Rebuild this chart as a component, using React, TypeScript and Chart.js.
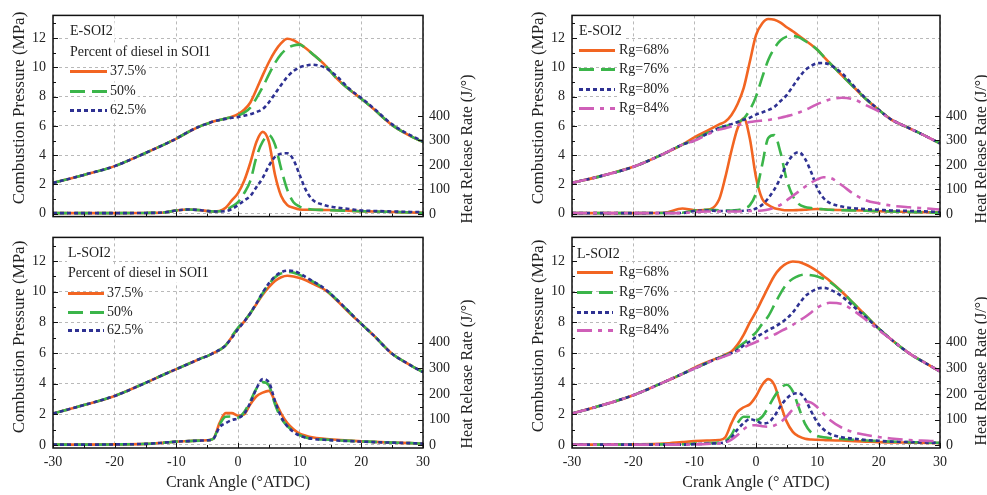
import React, { useEffect, useRef } from 'react';
import { Chart, registerables } from 'chart.js';
Chart.register(...registerables);

// ---------- data ----------
const CRANK = [-30,-25,-20,-15,-12,-10,-8,-6,-5,-4,-3,-2,-1,0,1,2,3,4,5,6,7,8,9,10,11,12,14,16,18,20,22,25,28,30];

const X_TICKS = [-30,-20,-10,0,10,20,30];
const P_TICKS = [0,2,4,6,8,10,12];
const HRR_TICKS = [0,100,200,300,400];
const X_MINOR = [-25,-15,-5,5,15,25];
const P_MINOR = [1,3,5,7,9,11,13];
const HRR_MINOR = [50,150,250,350];

// E-SOI2, percent of diesel in SOI1 (top left)
const eP375 = [2.1,2.65,3.25,4.15,4.72,5.13,5.6,6.0,6.15,6.3,6.4,6.5,6.62,6.8,7.1,7.6,8.5,9.45,10.35,11.1,11.65,11.95,11.85,11.6,11.3,10.95,10.2,9.25,8.5,7.85,7.15,6.05,5.3,4.9];
const eP50 = [2.1,2.65,3.25,4.15,4.72,5.13,5.6,6.0,6.15,6.3,6.4,6.5,6.6,6.7,6.9,7.25,7.9,8.65,9.5,10.3,10.9,11.3,11.5,11.55,11.3,10.95,10.2,9.25,8.5,7.85,7.15,6.05,5.3,4.9];
const eP625 = [2.1,2.65,3.25,4.15,4.72,5.13,5.6,6.0,6.15,6.3,6.4,6.48,6.55,6.6,6.7,6.8,6.95,7.15,7.6,8.2,8.8,9.35,9.75,10.0,10.12,10.18,10.0,9.4,8.55,7.9,7.2,6.1,5.35,4.95];
const eH375 = [3,3,3,4,6,14,18,15,12,10,12,25,55,85,135,209,295,335,295,160,73,36,25,18,17,17,16,15,13,11,10,8,6,5];
const eH50 = [3,3,3,4,6,14,18,15,12,10,11,15,30,48,85,135,233,295,322,283,184,98,48,30,22,18,16,14,13,11,10,8,6,4];
const eH625 = [3,3,3,4,6,14,18,15,12,10,10,11,20,36,55,73,110,147,196,233,246,248,221,159,98,60,36,26,20,14,12,10,8,7];

// L-SOI2, percent of diesel in SOI1 (bottom left)
const lP375 = [2.05,2.6,3.2,4.05,4.6,4.95,5.3,5.65,5.8,6.0,6.2,6.5,7.05,7.6,8.05,8.6,9.2,9.8,10.3,10.7,10.95,11.05,11.0,10.9,10.75,10.55,10.15,9.45,8.65,7.9,7.15,5.95,5.2,4.75];
const lP50 = [2.05,2.6,3.2,4.05,4.6,4.95,5.3,5.65,5.8,6.0,6.2,6.5,7.1,7.65,8.1,8.6,9.25,9.9,10.5,10.95,11.2,11.3,11.25,11.1,10.9,10.7,10.2,9.5,8.7,7.9,7.15,5.95,5.2,4.75];
const lP625 = [2.05,2.6,3.2,4.05,4.6,4.95,5.3,5.65,5.8,6.0,6.2,6.5,7.0,7.55,8.05,8.6,9.25,9.95,10.55,11.0,11.28,11.38,11.35,11.2,10.95,10.72,10.22,9.5,8.7,7.9,7.15,5.95,5.2,4.75];
const lH375 = [2,2,3,5,10,14,16,18,19,25,86,125,125,115,120,160,191,205,212,172,123,86,62,45,37,31,25,21,18,15,13,10,8,6];
const lH50 = [2,2,3,5,10,14,16,18,19,25,80,111,112,108,129,172,221,246,234,160,105,74,55,39,30,25,22,19,17,15,13,10,8,6];
const lH625 = [2,2,3,5,10,14,16,18,19,25,70,86,98,105,123,166,221,258,246,172,111,74,52,37,30,25,21,18,16,14,12,10,8,6];

// E-SOI2, Rg (top right)
const rP68 = [2.1,2.6,3.2,4.1,4.72,5.23,5.65,6.1,6.3,6.75,7.5,8.6,10.4,12.2,13.0,13.3,13.25,13.05,12.74,12.47,12.15,11.85,11.55,11.2,10.75,10.3,9.45,8.62,7.8,7.1,6.45,5.84,5.23,4.8];
const rP76 = [2.1,2.6,3.2,4.1,4.72,5.05,5.5,5.85,5.98,6.1,6.25,6.5,7.1,8.0,9.3,10.5,11.3,11.85,12.1,12.15,12.05,11.8,11.55,11.2,10.75,10.3,9.45,8.62,7.8,7.1,6.45,5.84,5.23,4.8];
const rP80 = [2.1,2.6,3.2,4.1,4.72,5.0,5.45,5.85,6.0,6.12,6.26,6.42,6.56,6.77,6.92,7.08,7.3,7.7,8.1,8.7,9.3,9.8,10.1,10.28,10.3,10.18,9.6,8.7,7.85,7.1,6.45,5.84,5.23,4.8];
const rP84 = [2.1,2.6,3.2,4.1,4.72,5.0,5.4,5.75,5.84,5.95,6.05,6.15,6.26,6.32,6.36,6.4,6.48,6.56,6.66,6.77,6.92,7.08,7.28,7.49,7.65,7.8,7.92,7.8,7.4,7.0,6.45,5.84,5.23,4.8];
const rH68 = [3,3,3,5,22,15,17,60,150,258,350,391,307,150,62,36,23,18,15,15,16,17,19,20,19,17,16,15,13,11,10,8,7,6];
const rH76 = [3,3,3,4,5,14,17,15,14,14,16,22,36,85,200,310,322,250,140,73,40,28,24,21,19,17,15,14,13,11,10,8,6,5];
const rH80 = [3,3,3,4,4,12,14,12,12,12,12,13,15,22,37,64,100,148,203,240,252,225,170,105,65,45,30,23,19,17,14,12,10,8];
const rH84 = [3,3,3,3,3,8,10,10,10,10,10,11,12,12,14,18,26,37,55,74,92,111,128,141,150,148,117,80,55,43,34,27,22,18];

// L-SOI2, Rg (bottom right)
const sP68 = [2.05,2.6,3.25,4.1,4.64,5.05,5.4,5.72,5.9,6.1,6.55,7.2,8.0,8.7,9.5,10.3,11.05,11.55,11.85,11.98,11.95,11.8,11.6,11.34,11.03,10.72,10.0,9.2,8.4,7.6,6.9,5.98,5.26,4.8];
const sP76 = [2.05,2.6,3.25,4.1,4.64,5.0,5.35,5.7,5.84,6.05,6.35,6.65,7.0,7.35,7.9,8.4,9.15,9.9,10.5,10.85,11.05,11.12,11.08,11.0,10.85,10.65,10.0,9.2,8.4,7.6,6.9,5.98,5.26,4.8];
const sP80 = [2.05,2.6,3.25,4.1,4.64,5.0,5.35,5.7,5.84,6.0,6.2,6.5,6.75,7.05,7.25,7.5,7.7,7.95,8.25,8.65,9.2,9.7,10.0,10.2,10.26,10.16,9.7,9.0,8.3,7.6,6.9,5.98,5.26,4.8];
const sP84 = [2.05,2.6,3.25,4.1,4.64,5.0,5.35,5.65,5.8,5.95,6.12,6.35,6.55,6.72,6.88,7.02,7.2,7.42,7.62,7.84,8.1,8.35,8.65,8.97,9.18,9.28,9.2,8.75,8.15,7.5,6.9,5.98,5.26,4.8];
const sH68 = [2,2,3,6,12,16,18,20,31,86,130,148,160,191,235,258,235,160,92,52,34,25,22,21,20,19,18,16,14,12,11,10,9,8];
const sH76 = [2,2,3,3,3,6,8,10,16,40,86,111,110,97,111,148,190,222,236,210,145,83,49,36,31,28,24,21,18,16,14,12,10,9];
const sH80 = [2,2,2,2,2,4,6,8,12,30,62,86,102,95,85,88,114,152,182,200,203,180,132,89,62,45,31,25,20,17,14,12,10,9];
const sH84 = [2,2,2,2,2,3,5,7,10,22,40,62,77,78,74,72,77,90,112,140,158,170,166,148,123,99,68,50,40,32,26,20,17,15];

const DIESEL_LABELS = ['37.5%', '50%', '62.5%'];
const RG_LABELS = ['Rg=68%', 'Rg=76%', 'Rg=80%', 'Rg=84%'];

// ---------- styles ----------
const FONT = '"Liberation Serif", "Times New Roman", serif';
const TEXT = '#222';
const STYLES = [
  { color: '#F26522', dash: [] as number[] },
  { color: '#3BB54A', dash: [15, 7] },
  { color: '#2E3192', dash: [4, 3] },
  { color: '#CF5FB8', dash: [15, 6, 4, 6] },
];

type Panel = {
  id: string;
  box: { x: number; y: number; w: number; h: number };
  area: { l: number; r: number; t: number; b: number };
  showX: boolean;
  heads: { text: string; dy: number }[];
  labels: string[];
  P: number[][];
  H: number[][];
  leg: { dx: number; rows: number[]; lineLen: number; textDx: number };
};

const PANELS: Panel[] = [
  {
    id: 'tl', box: { x: 0, y: 0, w: 490, h: 232 }, area: { l: 53, r: 423, t: 4, b: 226 }, showX: false,
    heads: [{ text: 'E-SOI2', dy: 16 }, { text: 'Percent of diesel in SOI1', dy: 37 }],
    labels: DIESEL_LABELS, P: [eP375, eP50, eP625], H: [eH375, eH50, eH625],
    leg: { dx: 17, rows: [56, 76, 95], lineLen: 37, textDx: 57 },
  },
  {
    id: 'bl', box: { x: 0, y: 222, w: 490, h: 273 }, area: { l: 53, r: 423, t: 226, b: 448 }, showX: true,
    heads: [{ text: 'L-SOI2', dy: 16 }, { text: 'Percent of diesel in SOI1', dy: 36 }],
    labels: DIESEL_LABELS, P: [lP375, lP50, lP625], H: [lH375, lH50, lH625],
    leg: { dx: 15, rows: [56, 75, 93], lineLen: 36, textDx: 54 },
  },
  {
    id: 'tr', box: { x: 490, y: 0, w: 497, h: 232 }, area: { l: 572, r: 940, t: 4, b: 226 }, showX: false,
    heads: [{ text: 'E-SOI2', dy: 16 }],
    labels: RG_LABELS, P: [rP68, rP76, rP80, rP84], H: [rH68, rH76, rH80, rH84],
    leg: { dx: 7, rows: [35, 54, 74, 93], lineLen: 36, textDx: 47 },
  },
  {
    id: 'br', box: { x: 490, y: 222, w: 497, h: 273 }, area: { l: 572, r: 940, t: 226, b: 448 }, showX: true,
    heads: [{ text: 'L-SOI2', dy: 17 }],
    labels: RG_LABELS, P: [sP68, sP76, sP80, sP84], H: [sH68, sH76, sH80, sH84],
    leg: { dx: 5, rows: [35, 55, 75, 93], lineLen: 36, textDx: 47 },
  },
];

function decorPlugin(p: Panel) {
  return {
    id: 'decor_' + p.id,
    afterDraw(chart: any) {
      const ctx = chart.ctx as CanvasRenderingContext2D;
      const a = chart.chartArea;
      const sx = chart.scales.x, sy = chart.scales.y, sh = chart.scales.yH;
      ctx.save();
      // legend
      ctx.font = `14px ${FONT}`;
      ctx.textBaseline = 'middle';
      ctx.textAlign = 'left';
      const tx = a.left + p.leg.dx;
      const white = (x: number, y: number, w: number) => {
        ctx.fillStyle = '#fff';
        ctx.fillRect(x - 1, y - 9, w + 3, 18);
      };
      p.heads.forEach((h) => {
        const y = a.top + h.dy;
        const w = ctx.measureText(h.text).width;
        white(tx, y, w);
        ctx.fillStyle = TEXT;
        ctx.fillText(h.text, tx, y);
      });
      p.labels.forEach((lab, i) => {
        const y = a.top + p.leg.rows[i];
        const xText = a.left + p.leg.textDx;
        const w = ctx.measureText(lab).width;
        white(xText, y, w);
        ctx.fillStyle = TEXT;
        ctx.fillText(lab, xText, y);
        ctx.beginPath();
        ctx.strokeStyle = STYLES[i].color;
        ctx.lineWidth = 3;
        ctx.setLineDash(STYLES[i].dash);
        ctx.moveTo(tx, y);
        ctx.lineTo(tx + p.leg.lineLen, y);
        ctx.stroke();
      });
      ctx.setLineDash([]);
      // inward ticks
      ctx.strokeStyle = '#111';
      ctx.lineWidth = 1;
      ctx.beginPath();
      const tickX = (v: number, len: number) => {
        const x = Math.round(sx.getPixelForValue(v)) + 0.5;
        ctx.moveTo(x, a.bottom); ctx.lineTo(x, a.bottom - len);
      };
      X_TICKS.forEach((v) => tickX(v, 5));
      X_MINOR.forEach((v) => tickX(v, 3));
      const tickL = (v: number, len: number) => {
        const y = Math.round(sy.getPixelForValue(v)) + 0.5;
        ctx.moveTo(a.left, y); ctx.lineTo(a.left + len, y);
      };
      P_TICKS.forEach((v) => tickL(v, 5));
      P_MINOR.forEach((v) => tickL(v, 3));
      const tickR = (v: number, len: number) => {
        const y = Math.round(sh.getPixelForValue(v)) + 0.5;
        ctx.moveTo(a.right, y); ctx.lineTo(a.right - len, y);
      };
      HRR_TICKS.forEach((v) => tickR(v, 5));
      HRR_MINOR.forEach((v) => tickR(v, 3));
      ctx.stroke();
      // frame
      ctx.lineWidth = 1.5;
      ctx.strokeStyle = '#111';
      ctx.strokeRect(a.left, a.top, a.right - a.left, a.bottom - a.top);
      ctx.restore();
    },
  };
}

function makeConfig(p: Panel): any {
  const leftW = p.area.l - p.box.x;
  const rightW = p.box.x + p.box.w - p.area.r;
  const padTop = p.area.t - p.box.y;
  const xH = p.box.y + p.box.h - p.area.b;
  const datasets: any[] = [];
  p.P.forEach((arr, i) => {
    datasets.push({
      label: p.labels[i] + ' P',
      data: CRANK.map((x, k) => ({ x, y: arr[k] })),
      yAxisID: 'y',
      borderColor: STYLES[i].color,
      borderDash: STYLES[i].dash,
      borderWidth: 2.6,
      pointRadius: 0,
      fill: false,
      cubicInterpolationMode: 'monotone',
      order: 10 - i,
    });
  });
  p.H.forEach((arr, i) => {
    datasets.push({
      label: p.labels[i] + ' HRR',
      data: CRANK.map((x, k) => ({ x, y: arr[k] })),
      yAxisID: 'yH',
      borderColor: STYLES[i].color,
      borderDash: STYLES[i].dash,
      borderWidth: 2.6,
      pointRadius: 0,
      fill: false,
      cubicInterpolationMode: 'monotone',
      order: 10 - i,
    });
  });
  const tickFont = { family: FONT, size: 14 };
  return {
    type: 'line',
    data: { datasets },
    plugins: [decorPlugin(p)],
    options: {
      animation: false,
      responsive: false,
      devicePixelRatio: 1,
      layout: { padding: { top: padTop, bottom: 0, left: 0, right: 0 } },
      plugins: { legend: { display: false }, tooltip: { enabled: false }, title: { display: false } },
      scales: {
        x: {
          type: 'linear', min: -30, max: 30,
          afterBuildTicks: (s: any) => { s.ticks = X_TICKS.map((v) => ({ value: v })); },
          afterFit: (s: any) => { s.height = xH; },
          grid: { color: '#b9b9b9', lineWidth: 1, drawTicks: false },
          border: { display: false, dash: [3, 3] },
          ticks: { display: p.showX, font: tickFont, color: TEXT, padding: 6, maxRotation: 0, callback: (v: any) => String(v) },
        },
        y: {
          type: 'linear', position: 'left', min: -0.2, max: 13.55,
          afterBuildTicks: (s: any) => { s.ticks = P_TICKS.map((v) => ({ value: v })); },
          afterFit: (s: any) => { s.width = leftW; },
          grid: { color: '#b9b9b9', lineWidth: 1, drawTicks: false },
          border: { display: false, dash: [3, 3] },
          ticks: { font: tickFont, color: TEXT, padding: 7, callback: (v: any) => String(v) },
        },
        yH: {
          type: 'linear', position: 'right', min: -11, max: 811,
          afterBuildTicks: (s: any) => { s.ticks = HRR_TICKS.map((v) => ({ value: v })); },
          afterFit: (s: any) => { s.width = rightW; },
          grid: { display: false, drawTicks: false },
          border: { display: false },
          ticks: { font: tickFont, color: TEXT, padding: 6, callback: (v: any) => String(v) },
        },
      },
    },
  };
}

function PanelChart({ p }: { p: Panel }) {
  const ref = useRef<HTMLCanvasElement>(null);
  useEffect(() => {
    const chart = new Chart(ref.current as HTMLCanvasElement, makeConfig(p));
    return () => chart.destroy();
  }, [p]);
  return (
    <canvas
      ref={ref}
      width={p.box.w}
      height={p.box.h}
      style={{ position: 'absolute', left: p.box.x, top: p.box.y, width: p.box.w, height: p.box.h }}
    />
  );
}

function Label({ text, cx, cy, size, vertical }: { text: string; cx: number; cy: number; size: number; vertical?: boolean }) {
  return (
    <div
      style={{
        position: 'absolute', left: cx, top: cy,
        transform: vertical ? 'translate(-50%,-50%) rotate(-90deg)' : 'translate(-50%,-50%)',
        whiteSpace: 'nowrap', fontFamily: FONT, fontSize: size, lineHeight: 1, color: TEXT,
      }}
    >
      {text}
    </div>
  );
}

export default function App() {
  return (
    <div style={{ position: 'absolute', left: 0, top: 0, width: 987, height: 495, background: '#fff', overflow: 'hidden' }}>
      {PANELS.map((p) => <PanelChart key={p.id} p={p} />)}
      <Label text="Combustion Pressure (MPa)" cx={18} cy={108} size={17} vertical />
      <Label text="Combustion Pressure (MPa)" cx={18} cy={337} size={17} vertical />
      <Label text="Combustion Pressure (MPa)" cx={537} cy={108} size={17} vertical />
      <Label text="Combustion Pressure (MPa)" cx={537} cy={336} size={17} vertical />
      <Label text="Heat Release Rate (J/°)" cx={467} cy={149} size={16} vertical />
      <Label text="Heat Release Rate (J/°)" cx={467} cy={374} size={16} vertical />
      <Label text="Heat Release Rate (J/°)" cx={981} cy={149} size={16} vertical />
      <Label text="Heat Release Rate (J/°)" cx={981} cy={371} size={16} vertical />
      <Label text="Crank Angle (°ATDC)" cx={238} cy={482} size={16} />
      <Label text="Crank Angle (° ATDC)" cx={756} cy={482} size={16} />
    </div>
  );
}
